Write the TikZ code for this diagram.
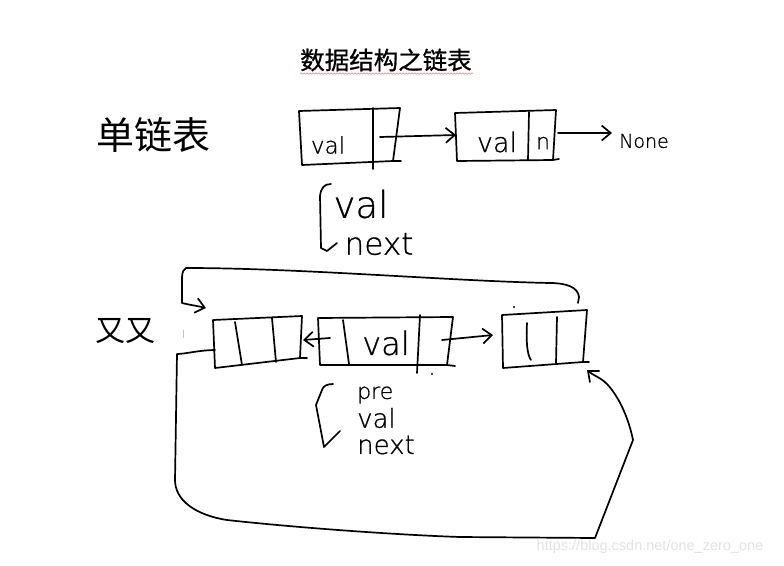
\documentclass[tikz,border=0pt]{standalone}
\usepackage{fontspec}
\newfontfamily\cjk{Noto Sans CJK SC}
\newfontfamily\cjkt[FakeBold=0.8]{Noto Sans CJK SC}
\newfontfamily\hand[FakeBold=0.8]{DejaVu Sans ExtraLight}
\newfontfamily\wmfont{Liberation Sans}
\usetikzlibrary{arrows.meta,decorations.pathmorphing}
\tikzset{
  pen/.style={line width=1.7pt, line cap=round, line join=round},
  arr/.style={pen, -{Straight Barb[length=9pt,width=15pt]}},
  hw/.style={inner sep=0pt, font=\hand\fontsize{#1}{#1}\selectfont},
  hwl/.style={inner sep=0pt, anchor=west, font=\hand\fontsize{#1}{#1}\selectfont},
  zh/.style={inner sep=0pt, font=\cjk\fontsize{#1}{#1}\selectfont},
}
\begin{document}
\begin{tikzpicture}[x=1pt,y=-1pt]
\fill[white] (0,0) rectangle (784,565);
\useasboundingbox (0,0) rectangle (784,565);

% title
\node[inner sep=0pt, font=\cjkt\fontsize{24.5}{24.5}\selectfont] (title) at (386,60) {数据结构之链表};
\draw[red!65, line width=0.6pt, opacity=0.7, decorate, decoration={snake, amplitude=0.7pt, segment length=3pt}] (title.south west) ++(0,2) -- ++(173,0);

% ---- single linked list ----
\node[zh=38] (dan) at (153,135) {单链表};

\coordinate (a1) at (299,111); \coordinate (a2) at (400,108);
\coordinate (a3) at (393,161); \coordinate (a4) at (302,165);
\draw[pen] (a1) -- (a2) -- (a3) -- (a4) -- cycle;
\draw[pen] (a3) -- ++(8,0);
\draw[pen] (373,108) -- (373,169);
\node[hw=23] (v1) at (328,145) {val};

\coordinate (p1) at (380,137); \coordinate (q1) at (456,135);
\draw[arr] (p1) -- (q1);

\coordinate (b1) at (455,113); \coordinate (b2) at (556,110);
\coordinate (b3) at (553,160); \coordinate (b4) at (457,161);
\draw[pen] (b1) -- (b2) -- (b3) -- (b4) -- cycle;
\draw[pen] (b3) -- ++(6,-1);
\draw[pen] (529,112) -- (528,160);
\node[hw=27] (v2) at (497,142) {val};
\node[hw=22] (n2) at (543,143) {n};

\coordinate (p2) at (558,133); \coordinate (q2) at (612,133);
\draw[arr] (p2) -- (q2);
\node[hw=19] (none) at (644,141) {None};

% brace 1
\draw[pen] (331,184) .. controls (324,184) and (321,188) .. (320,196) -- (321,248) -- (327,251) -- (337,243);
\node[hw=37] (bv) at (361,204) {val};
\node[hw=31] (bn) at (379,244) {next};

% ---- double linked list ----
\node[zh=30] (shuang) at (125,331) {又又};

% box A
\coordinate (A1) at (213,320); \coordinate (A2) at (302,316);
\coordinate (A3) at (300,358); \coordinate (A4) at (215,368);
\draw[pen] (A1) -- (A2) -- (A3) -- (A4) -- cycle;
\draw[pen] (A3) -- ++(7,0);
\draw[pen] (235,322) -- (242,365);
\draw[pen] (272,318) -- (276,362);

% box B
\coordinate (B1) at (318,318); \coordinate (B2) at (453,317);
\coordinate (B3) at (447,365); \coordinate (B4) at (320,365);
\draw[pen] (B1) -- (B2) -- (B3) -- (B4) -- cycle;
\draw[pen] (B3) -- ++(8,1);
\draw[pen] (343,320) -- (349,364);
\draw[pen] (420,315) -- (417,373);
\node[hw=32] (vB) at (386,343) {val};

% box C
\coordinate (C1) at (502,315); \coordinate (C2) at (587,310);
\coordinate (C3) at (583,362); \coordinate (C4) at (503,368);
\draw[pen] (C1) -- (C2) -- (C3) -- (C4) -- cycle;
\draw[pen] (C3) -- ++(6,0);
\draw[pen] (527,323) .. controls (526,340) and (527,355) .. (531,360);
\draw[pen] (557,317) -- (556,363);

% arrows between boxes
\coordinate (pBA) at (330,338); \coordinate (qBA) at (303,340);
\draw[arr] (pBA) -- (qBA);
\coordinate (pBC) at (442,340); \coordinate (qBC) at (493,335);
\draw[arr] (pBC) -- (qBC);

% top loop
\coordinate (topS) at (578,303); \coordinate (topE) at (206,308);
\draw[arr] (topS) -- (579,297) .. controls (578,287) and (566,283) .. (550,283)
  .. controls (450,281) and (300,268) .. (186,268)
  .. controls (181,270) and (182,280) .. (182,290) -- (182,303)
  .. controls (190,305) and (198,306) .. (topE);

% bottom loop
\coordinate (botS) at (215,350); \coordinate (botE) at (587,370);
\draw[arr] (botS) .. controls (200,350) and (185,354) .. (177,354) -- (175,480)
  .. controls (175,500) and (195,515) .. (227,520)
  .. controls (300,528) and (400,535) .. (460,537) -- (595,538) -- (633,440)
  .. controls (629,420) and (620,398) .. (607,384)
  .. controls (600,377) and (594,376) .. (botE);

% brace 2
\draw[pen] (333,384) .. controls (327,384) and (323,386) .. (322,390) -- (316,405) -- (324,447) -- (340,431);
\node[hwl=22] (pre) at (357,395) {pre};
\node[hwl=26] (val3) at (357,418) {val};
\node[hwl=26] (next3) at (357,445) {next};

% stray marks
\fill (514,307) circle (1.1pt);
\fill (432,374) circle (1.1pt);
\draw[gray!50, line width=1pt] (183,330) -- (183,338);

% watermark
\node[inner sep=0pt, text=gray!22, font=\wmfont\fontsize{14.5}{14.5}\selectfont] (wm) at (650,547) {https://blog.csdn.net/one\_zero\_one};
\end{tikzpicture}
\end{document}
